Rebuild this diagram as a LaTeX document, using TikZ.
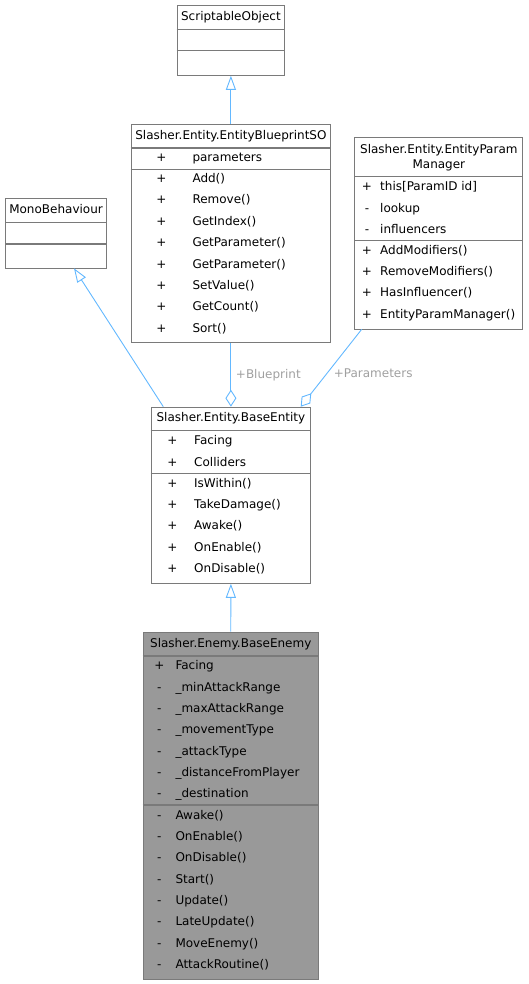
\documentclass[tikz,border=0pt]{standalone}
\usepackage{fontspec}
\setmainfont{DejaVu Sans}
\usetikzlibrary{arrows.meta}
\definecolor{edgeblue}{HTML}{63B8FF}
\definecolor{boxgray}{HTML}{7A7A7A}
\definecolor{labelgray}{HTML}{A0A0A0}
\definecolor{fillgray}{HTML}{999999}

\begin{document}
\begin{tikzpicture}[
        x=1pt, y=-1pt,
        classbox/.style={draw=boxgray, line width=1.1pt, fill=white, anchor=north west, inner sep=0pt},
        divider/.style={draw=boxgray, line width=1.1pt},
        member/.style={anchor=west, inner sep=0pt, text height=8.5pt, text depth=2.5pt, font=\fontsize{12}{14}\selectfont},
        sign/.style={member, anchor=center},
        title/.style={member, anchor=center},
        inherit/.style={draw=edgeblue, line width=0.9pt, -{Triangle[open, length=14pt, width=10pt, fill=white]}},
        aggregate/.style={draw=edgeblue, line width=0.9pt, -{Diamond[open, length=17pt, width=11pt, fill=white]}},
        edgelabel/.style={inner sep=0pt, text=labelgray, text height=8.5pt, text depth=2.5pt, font=\fontsize{12}{14}\selectfont}
    ]

    \useasboundingbox (0,0) rectangle (528,984);

    % ScriptableObject
    \node[classbox, minimum width=107.3pt, minimum height=69.7pt] (so) at (176.7,5) {};
    \draw[divider] (176.7,29.3) -- (284,29.3);
    \draw[divider] (176.7,50.7) -- (284,50.7);
    \node[title] (so-title) at (so.north |- 0,17.3) {ScriptableObject};

    % Slasher.Entity.EntityBlueprintSO
    \node[classbox, minimum width=199.3pt, minimum height=218.3pt] (bp) at (130.7,124) {};
    \draw[divider] (130.7,148) -- (330,148);
    \draw[divider] (130.7,169.3) -- (330,169.3);
    \node[title] (bp-title) at (bp.north |- 0,136.3) {Slasher.Entity.EntityBlueprintSO};
    \node[sign] (bp-s0) at (161.3,158.3) {+};
    \node[member] (bp-a0) at (192.3,158.3) {parameters};
    \foreach \t [count=\i] in {Add(), Remove(), GetIndex(), GetParameter(), GetParameter(), SetValue(), GetCount(), Sort()} {
        \node[sign] (bp-s\i) at (161.3,{179.3+21.43*(\i-1)}) {+};
        \node[member] (bp-m\i) at (192.3,{179.3+21.43*(\i-1)}) {\t};
    }

    % Slasher.Entity.EntityParamManager
    \node[classbox, minimum width=168pt, minimum height=192.3pt] (pm) at (354.3,137) {};
    \draw[divider] (354.3,176.7) -- (522.3,176.7);
    \draw[divider] (354.3,240.7) -- (522.3,240.7);
    \node[title] (pm-title1) at (pm.north |- 0,150.7) {Slasher.Entity.EntityParam};
    \node[title] (pm-title2) at (pm.north |- 0,166) {Manager};
    \foreach \s/\t [count=\i] in {+/{this[ParamID id]}, -/lookup, -/influencers} {
        \node[sign] (pm-as\i) at (367,{188+21.15*(\i-1)}) {\s};
        \node[member] (pm-a\i) at (380,{188+21.15*(\i-1)}) {\t};
    }
    \foreach \t [count=\i] in {AddModifiers(), RemoveModifiers(), HasInfluencer(), EntityParamManager()} {
        \node[sign] (pm-ms\i) at (367,{251.3+21.33*(\i-1)}) {+};
        \node[member] (pm-m\i) at (380,{251.3+21.33*(\i-1)}) {\t};
    }

    % MonoBehaviour
    \node[classbox, minimum width=101pt, minimum height=70pt] (mb) at (5,198.3) {};
    \draw[divider] (5,222.7) -- (106,222.7);
    \draw[divider] (5,244) -- (106,244);
    \node[title] (mb-title) at (mb.north |- 0,210.7) {MonoBehaviour};

    % Slasher.Entity.BaseEntity
    \node[classbox, minimum width=159.3pt, minimum height=176pt] (be) at (150.7,406.7) {};
    \draw[divider] (150.7,430.7) -- (310,430.7);
    \draw[divider] (150.7,473.3) -- (310,473.3);
    \node[title] (be-title) at (be.north |- 0,418.9) {Slasher.Entity.BaseEntity};
    \foreach \t [count=\i] in {Facing, Colliders, IsWithin(), TakeDamage(), Awake(), OnEnable(), OnDisable()} {
        \node[sign] (be-s\i) at (172.3,{441.7+21.3*(\i-1)}) {+};
        \node[member] (be-m\i) at (194,{441.7+21.3*(\i-1)}) {\t};
    }

    % Slasher.Enemy.BaseEnemy
    \node[classbox, fill=fillgray, minimum width=175pt, minimum height=347.3pt] (en) at (142.7,631.7) {};
    \draw[divider] (142.7,656) -- (317.7,656);
    \draw[divider] (142.7,805) -- (317.7,805);
    \node[title] (en-title) at (en.north |- 0,644.5) {Slasher.Enemy.BaseEnemy};
    \foreach \s/\t [count=\i] in {+/Facing, -/\_minAttackRange, -/\_maxAttackRange, -/\_movementType, -/\_attackType, -/\_distanceFromPlayer, -/\_destination,
                                  -/Awake(), -/OnEnable(), -/OnDisable(), -/Start(), -/Update(), -/LateUpdate(), -/MoveEnemy(), -/AttackRoutine()} {
        \node[sign] (en-s\i) at (159.3,{666.7+21.34*(\i-1)}) {\s};
        \node[member] (en-m\i) at (175.3,{666.7+21.34*(\i-1)}) {\t};
    }

    % connectors
    \coordinate (be-mb) at (163.3,406.7);
    \coordinate (mb-be) at (74,268.3);
    \coordinate (pm-be) at (361.7,329.3);
    \coordinate (be-pm) at (300.7,406.7);

    \draw[inherit] (bp.north) -- (so.south);
    \draw[inherit] (be-mb) -- (mb-be);
    \draw[inherit] (en.north) -- (be.south);
    \draw[aggregate] (bp.south) -- node[edgelabel, right=4.6pt] (bp-label) {+Blueprint} (be.north);
    \draw[aggregate] (pm-be) -- node[edgelabel, pos=0.58, right=7pt] (pm-label) {+Parameters} (be-pm);

\end{tikzpicture}
\end{document}
